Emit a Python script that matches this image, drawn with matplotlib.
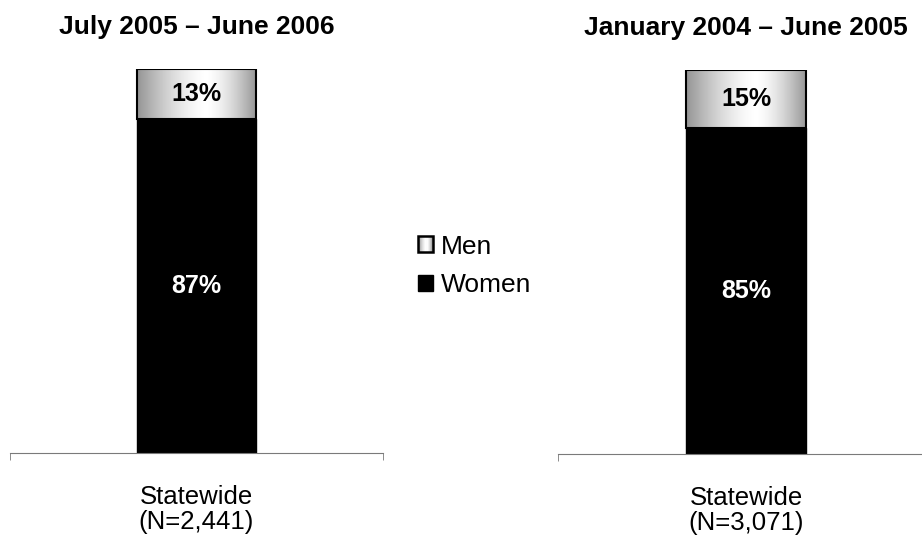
import matplotlib
matplotlib.use("Agg")
import matplotlib.pyplot as plt
import numpy as np
from matplotlib.patches import Rectangle
from matplotlib.legend_handler import HandlerBase

plt.rcParams["font.family"] = ["Liberation Sans", "DejaVu Sans"]

periods = ["July 2005 – June 2006", "January 2004 – June 2005"]
group_labels = ["Statewide\n(N=2,441)", "Statewide\n(N=3,071)"]
women = [87, 85]
men = [13, 15]


def gray_profile(n=256, centre=0.58, depth=0.42):
    # light in the middle, darker towards both edges
    t = np.linspace(0, 1, n)
    d = np.where(t < centre, (centre - t) / centre, (t - centre) / (1 - centre))
    return 1 - depth * d ** 1.5


class GradientHandler(HandlerBase):
    def create_artists(self, legend, orig_handle, xdescent, ydescent,
                       width, height, fontsize, trans):
        artists = []
        vals = gray_profile(14)
        sw = width / len(vals)
        for i, v in enumerate(vals):
            artists.append(Rectangle((-xdescent + i * sw, -ydescent), sw, height,
                                     facecolor=(v, v, v), edgecolor="none",
                                     transform=trans))
        artists.append(Rectangle((-xdescent, -ydescent), width, height,
                                 facecolor="none", edgecolor="black", lw=1.8,
                                 transform=trans))
        return artists


fig = plt.figure(figsize=(9.22, 5.39), dpi=100)
positions = [[10 / 922, 86 / 539, 373 / 922, 384 / 539],
             [558 / 922, 85 / 539, 376 / 922, 384 / 539]]

bar_w = 0.32
for pos, title, label, w, m in zip(positions, periods, group_labels, women, men):
    ax = fig.add_axes(pos)
    ax.bar(0, w, width=bar_w, color="black", edgecolor="black", zorder=2)
    outline = ax.bar(0, m, bottom=w, width=bar_w, facecolor="none",
                     edgecolor="black", lw=1.5, zorder=4)[0]
    grad = gray_profile()[np.newaxis, :]
    img = ax.imshow(grad, cmap="gray", vmin=0, vmax=1, aspect="auto",
                    extent=(-bar_w / 2, bar_w / 2, w, w + m), zorder=3)
    img.set_clip_path(outline)

    ax.text(0, w / 2, f"{w}%", ha="center", va="center", color="white",
            fontsize=18, fontweight="bold", zorder=5)
    ax.text(0, w + m / 2, f"{m}%", ha="center", va="center", color="black",
            fontsize=18, fontweight="bold", zorder=5)

    ax.set_xlim(-0.5, 0.5)
    ax.set_ylim(0, 100)
    for side in ["top", "right", "left"]:
        ax.spines[side].set_visible(False)
    ax.spines["bottom"].set_color("#7a7a7a")
    ax.set_yticks([])
    ax.set_xticks([0])
    ax.set_xticklabels([label], fontsize=18.5, linespacing=1.08)
    ax.tick_params(axis="x", which="major", length=0, pad=23)
    ax.set_xticks([-0.5, 0.5], minor=True)
    ax.tick_params(axis="x", which="minor", length=5, color="#7a7a7a")
    ax.set_title(title, fontsize=19, fontweight="bold", pad=25)

men_handle = Rectangle((0, 0), 1, 1)
women_handle = Rectangle((0, 0), 1, 1, facecolor="black", edgecolor="black")
fig.legend([men_handle, women_handle], ["Men", "Women"],
           handler_map={men_handle: GradientHandler()},
           loc="center left", bbox_to_anchor=(418 / 922, 0.5065),
           frameon=False, fontsize=19, handlelength=0.56, handleheight=0.56,
           handletextpad=0.3, labelspacing=0.55, borderpad=0, borderaxespad=0)

fig.savefig("out.png", dpi=100)
